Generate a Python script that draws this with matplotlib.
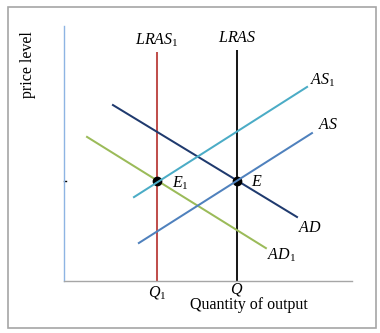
import matplotlib
matplotlib.use("Agg")
import matplotlib.pyplot as plt
from matplotlib.patches import Rectangle

plt.rcParams.update({
    "font.family": "Liberation Serif",
    "mathtext.fontset": "custom",
    "mathtext.rm": "Liberation Serif",
    "mathtext.it": "Liberation Serif:italic",
})

# ── Data (quantity on x, price level on y, arbitrary 0-10 units) ──────────────
Q1 = 3.23
Q = 6.0
P_EQ = 3.92

lras1_y = [0, 8.98]
lras_y = [0, 9.05]

ad_x = [1.70, 8.09]
ad_y = [6.90, 2.51]
ad1_x = [0.80, 7.01]
ad1_y = [5.65, 1.29]
as1_x = [2.43, 8.44]
as1_y = [3.29, 7.61]
as_x = [2.60, 8.61]
as_y = [1.49, 5.80]

fig = plt.figure(figsize=(3.8, 3.33), dpi=100)
fig.patches.append(Rectangle((8 / 380, 5 / 333), 368 / 380, 321 / 333,
                             transform=fig.transFigure, fill=False,
                             edgecolor="#a6a6a6", linewidth=1.2))

ax = fig.add_axes([64 / 380, 52 / 333, 288 / 380, 255 / 333])
ax.set_xlim(0, 10)
ax.set_ylim(0, 10)
ax.patch.set_visible(False)
for s in ("top", "right"):
    ax.spines[s].set_visible(False)
ax.spines["left"].set_color("#8eb4e3")
ax.spines["bottom"].set_color("#a6a6a6")
ax.spines["left"].set_linewidth(1.0)
ax.spines["bottom"].set_linewidth(1.0)
ax.set_xticks([])
ax.set_yticks([])

lw = 1.45
ax.plot([Q1, Q1], lras1_y, color="#c0504d", lw=lw, solid_capstyle="butt", clip_on=False)
ax.plot([Q, Q], lras_y, color="#1a1a1a", lw=lw, solid_capstyle="butt", clip_on=False)
ax.plot(ad1_x, ad1_y, color="#9bbb59", lw=lw)
ax.plot(ad_x, ad_y, color="#1f3a6e", lw=lw)
ax.plot([Q1, Q], [P_EQ, P_EQ], linestyle="none", marker="o", color="black", ms=6, zorder=3)
ax.plot(as1_x, as1_y, color="#4bacc6", lw=lw, zorder=4)
ax.plot(as_x, as_y, color="#4f81bd", lw=lw, zorder=4)
ax.plot([0, 0.07], [P_EQ, P_EQ], color="black", lw=1.0, clip_on=False)

fs = 11.5
ax.text(Q1, 9.45, r"$\mathit{LRAS}_\mathrm{1}$", fontsize=fs, ha="center", va="center")
ax.text(Q, 9.53, r"$\mathit{LRAS}$", fontsize=fs, ha="center", va="center")
ax.text(8.54, 7.88, r"$\mathit{AS}_\mathrm{1}$", fontsize=fs, ha="left", va="center")
ax.text(8.82, 6.12, r"$\mathit{AS}$", fontsize=fs, ha="left", va="center")
ax.text(3.75, 3.84, r"$\mathit{E}_\mathrm{1}$", fontsize=fs, ha="left", va="center")
ax.text(6.49, 3.88, r"$\mathit{E}$", fontsize=fs, ha="left", va="center")
ax.text(8.12, 2.08, r"$\mathit{AD}$", fontsize=fs, ha="left", va="center")
ax.text(7.05, 1.02, r"$\mathit{AD}_\mathrm{1}$", fontsize=fs, ha="left", va="center")
ax.text(Q1, -0.47, r"$\mathit{Q}_\mathrm{1}$", fontsize=fs, ha="center", va="center", clip_on=False)
ax.text(Q, -0.33, r"$\mathit{Q}$", fontsize=fs, ha="center", va="center", clip_on=False)
ax.text(6.42, -0.94, "Quantity of output", fontsize=fs, ha="center", va="center")
ax.text(-1.25, 8.5, "price level", fontsize=fs, ha="center", va="center", rotation=90)

fig.savefig("out.png", dpi=100)
